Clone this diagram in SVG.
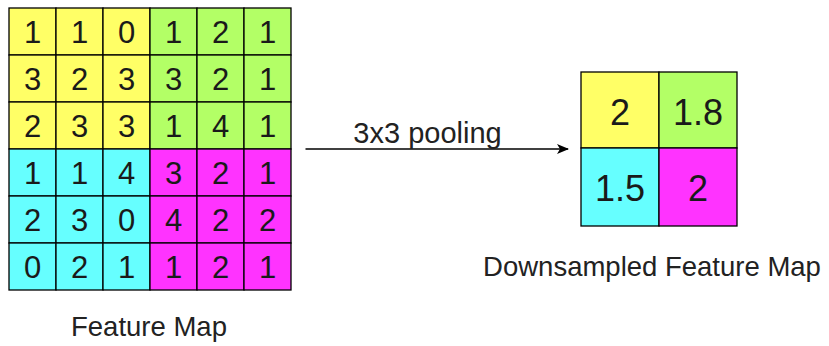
<svg xmlns="http://www.w3.org/2000/svg" width="829" height="346" viewBox="0 0 829 346">
  <style>
    .cell { stroke: #000; stroke-width: 1.3; }
    .y { fill: #FFFF66; }
    .g { fill: #B3FF66; }
    .c { fill: #66FFFF; }
    .m { fill: #FF33FF; }
    .num { font-family: "Liberation Sans", Arial, sans-serif; font-size: 31px; fill: #1a1a1a; text-anchor: middle; }
    .big { font-family: "Liberation Sans", Arial, sans-serif; font-size: 36px; fill: #1a1a1a; text-anchor: middle; }
    .label { font-family: "Liberation Sans", Arial, sans-serif; font-size: 27.5px; fill: #222; text-anchor: middle; }
    .edge-label { font-family: "Liberation Sans", Arial, sans-serif; font-size: 29px; fill: #222; text-anchor: middle; }
  </style>
  <defs>
    <marker id="arrow" viewBox="0 0 12 10" refX="11" refY="5" markerWidth="12" markerHeight="10" markerUnits="userSpaceOnUse" orient="auto">
      <path d="M0,0 L12,5 L0,10 L3,5 Z" fill="#000"/>
    </marker>
  </defs>

  <rect width="829" height="346" fill="#fff"/>

  <!-- 6x6 feature map, four 3x3 blocks -->
  <g id="block-top-left">
    <rect class="cell y" x="9" y="8" width="47" height="47"/>
    <rect class="cell y" x="56" y="8" width="47" height="47"/>
    <rect class="cell y" x="103" y="8" width="47" height="47"/>
    <rect class="cell y" x="9" y="55" width="47" height="47"/>
    <rect class="cell y" x="56" y="55" width="47" height="47"/>
    <rect class="cell y" x="103" y="55" width="47" height="47"/>
    <rect class="cell y" x="9" y="102" width="47" height="47"/>
    <rect class="cell y" x="56" y="102" width="47" height="47"/>
    <rect class="cell y" x="103" y="102" width="47" height="47"/>
    <text class="num" x="32.5" y="43">1</text>
    <text class="num" x="79.5" y="43">1</text>
    <text class="num" x="126.5" y="43">0</text>
    <text class="num" x="32.5" y="90">3</text>
    <text class="num" x="79.5" y="90">2</text>
    <text class="num" x="126.5" y="90">3</text>
    <text class="num" x="32.5" y="137">2</text>
    <text class="num" x="79.5" y="137">3</text>
    <text class="num" x="126.5" y="137">3</text>
  </g>

  <g id="block-top-right">
    <rect class="cell g" x="150" y="8" width="47" height="47"/>
    <rect class="cell g" x="197" y="8" width="47" height="47"/>
    <rect class="cell g" x="244" y="8" width="47" height="47"/>
    <rect class="cell g" x="150" y="55" width="47" height="47"/>
    <rect class="cell g" x="197" y="55" width="47" height="47"/>
    <rect class="cell g" x="244" y="55" width="47" height="47"/>
    <rect class="cell g" x="150" y="102" width="47" height="47"/>
    <rect class="cell g" x="197" y="102" width="47" height="47"/>
    <rect class="cell g" x="244" y="102" width="47" height="47"/>
    <text class="num" x="173.5" y="43">1</text>
    <text class="num" x="220.5" y="43">2</text>
    <text class="num" x="267.5" y="43">1</text>
    <text class="num" x="173.5" y="90">3</text>
    <text class="num" x="220.5" y="90">2</text>
    <text class="num" x="267.5" y="90">1</text>
    <text class="num" x="173.5" y="137">1</text>
    <text class="num" x="220.5" y="137">4</text>
    <text class="num" x="267.5" y="137">1</text>
  </g>

  <g id="block-bottom-left">
    <rect class="cell c" x="9" y="149" width="47" height="47"/>
    <rect class="cell c" x="56" y="149" width="47" height="47"/>
    <rect class="cell c" x="103" y="149" width="47" height="47"/>
    <rect class="cell c" x="9" y="196" width="47" height="47"/>
    <rect class="cell c" x="56" y="196" width="47" height="47"/>
    <rect class="cell c" x="103" y="196" width="47" height="47"/>
    <rect class="cell c" x="9" y="243" width="47" height="47"/>
    <rect class="cell c" x="56" y="243" width="47" height="47"/>
    <rect class="cell c" x="103" y="243" width="47" height="47"/>
    <text class="num" x="32.5" y="184">1</text>
    <text class="num" x="79.5" y="184">1</text>
    <text class="num" x="126.5" y="184">4</text>
    <text class="num" x="32.5" y="231">2</text>
    <text class="num" x="79.5" y="231">3</text>
    <text class="num" x="126.5" y="231">0</text>
    <text class="num" x="32.5" y="278">0</text>
    <text class="num" x="79.5" y="278">2</text>
    <text class="num" x="126.5" y="278">1</text>
  </g>

  <g id="block-bottom-right">
    <rect class="cell m" x="150" y="149" width="47" height="47"/>
    <rect class="cell m" x="197" y="149" width="47" height="47"/>
    <rect class="cell m" x="244" y="149" width="47" height="47"/>
    <rect class="cell m" x="150" y="196" width="47" height="47"/>
    <rect class="cell m" x="197" y="196" width="47" height="47"/>
    <rect class="cell m" x="244" y="196" width="47" height="47"/>
    <rect class="cell m" x="150" y="243" width="47" height="47"/>
    <rect class="cell m" x="197" y="243" width="47" height="47"/>
    <rect class="cell m" x="244" y="243" width="47" height="47"/>
    <text class="num" x="173.5" y="184">3</text>
    <text class="num" x="220.5" y="184">2</text>
    <text class="num" x="267.5" y="184">1</text>
    <text class="num" x="173.5" y="231">4</text>
    <text class="num" x="220.5" y="231">2</text>
    <text class="num" x="267.5" y="231">2</text>
    <text class="num" x="173.5" y="278">1</text>
    <text class="num" x="220.5" y="278">2</text>
    <text class="num" x="267.5" y="278">1</text>
  </g>

  <g id="feature-map-label">
    <text class="label" x="149" y="336">Feature Map</text>
  </g>

  <!-- 2x2 pooled output -->
  <g id="pooled-top-left">
    <rect class="cell y" x="581" y="72" width="78" height="76"/>
    <text class="big" x="620" y="124.5">2</text>
  </g>
  <g id="pooled-top-right">
    <rect class="cell g" x="659" y="72" width="78" height="76"/>
    <text class="big" x="698" y="124.5">1.8</text>
  </g>
  <g id="pooled-bottom-left">
    <rect class="cell c" x="581" y="148" width="78" height="78"/>
    <text class="big" x="620" y="201">1.5</text>
  </g>
  <g id="pooled-bottom-right">
    <rect class="cell m" x="659" y="148" width="78" height="78"/>
    <text class="big" x="698" y="201">2</text>
  </g>

  <g id="downsampled-label">
    <text class="label" x="652" y="276">Downsampled Feature Map</text>
  </g>

  <!-- connectors -->
  <g id="connectors">
    <line x1="305.5" y1="149" x2="568" y2="149" stroke="#000" stroke-width="1.3" marker-end="url(#arrow)"/>
    <text class="edge-label" x="427.5" y="142.5">3x3 pooling</text>
  </g>
</svg>
